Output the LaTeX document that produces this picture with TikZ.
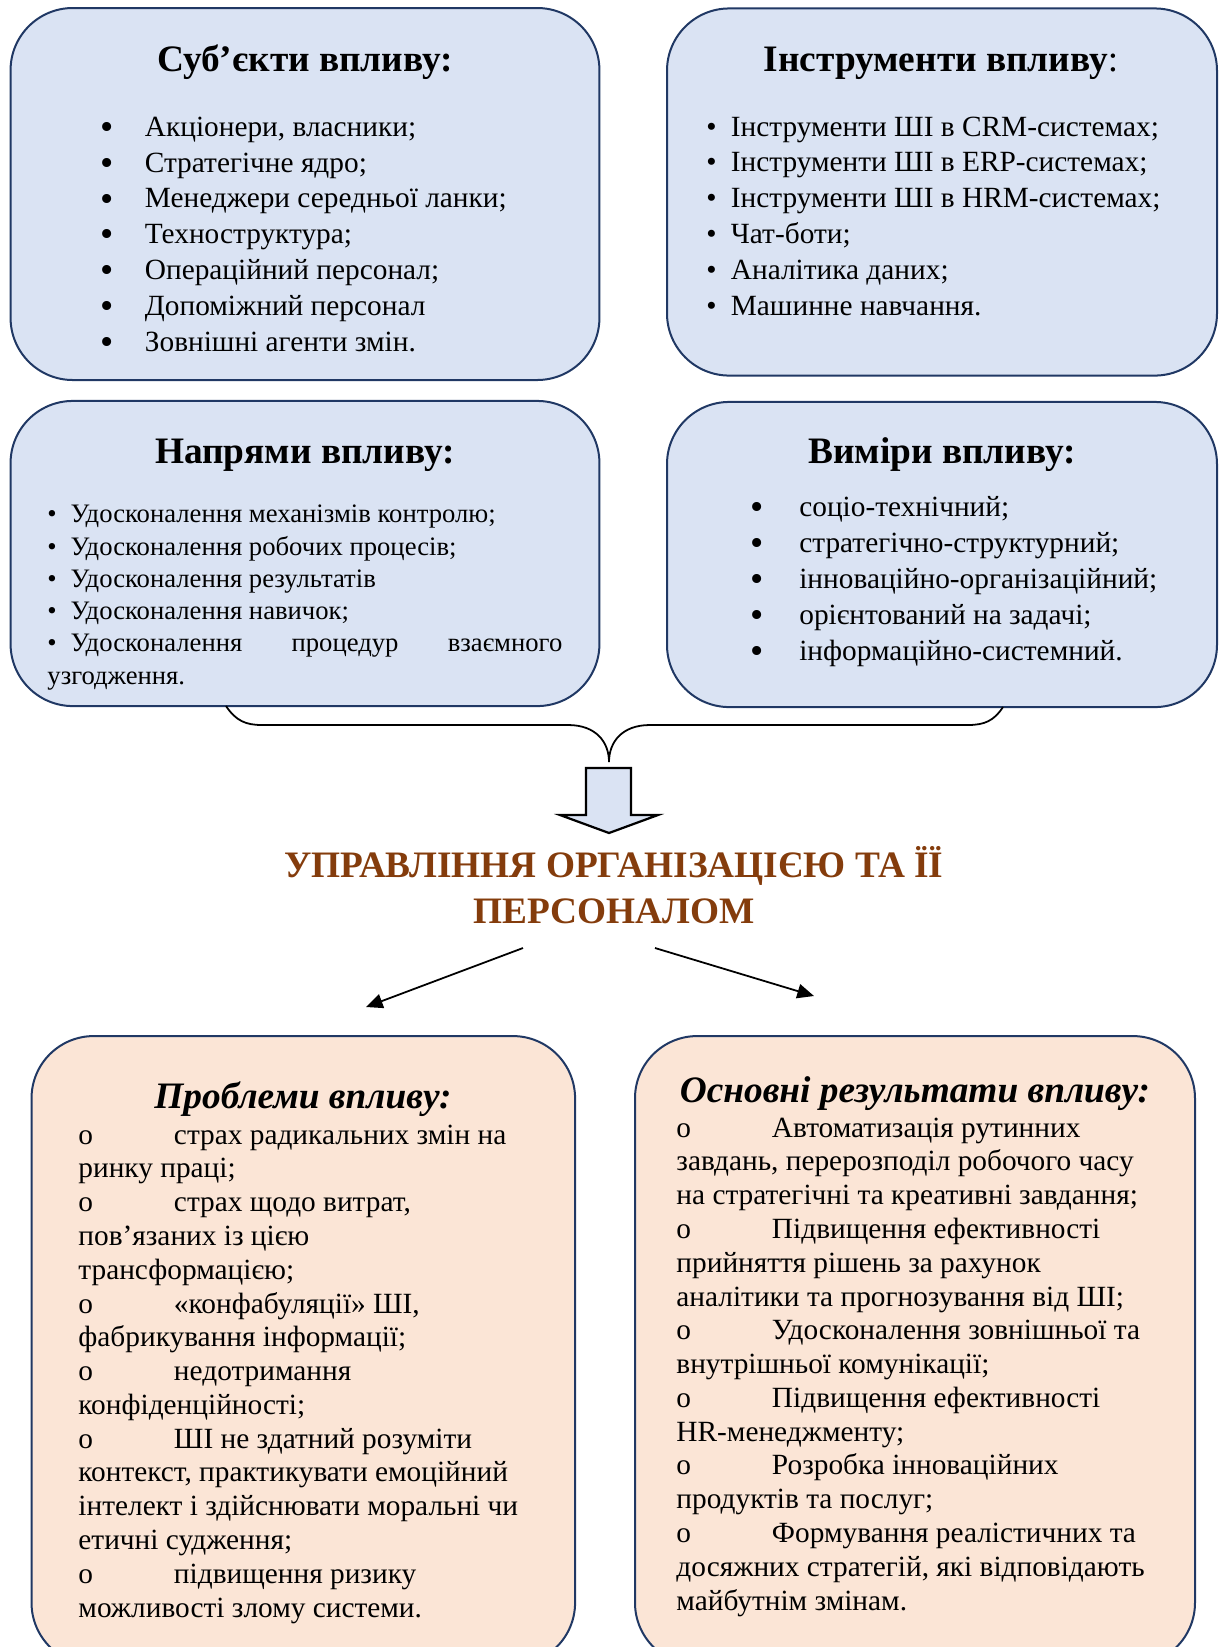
\documentclass[tikz,border=0pt]{standalone}
\usepackage{fontspec}
\setmainfont{Liberation Serif}
\usetikzlibrary{arrows.meta,positioning}
\definecolor{boxline}{HTML}{203864}
\definecolor{boxblue}{HTML}{DAE3F3}
\definecolor{boxpeach}{HTML}{FBE5D6}
\definecolor{headbrown}{HTML}{843C0C}
\newcommand{\bull}[1]{\makebox[#1][l]{\raisebox{-1.4pt}{\fontsize{17}{17}\selectfont\textbullet}}}
\newcommand{\sbull}[1]{\makebox[#1][l]{\textbullet}}
\newcommand{\circit}{\makebox[43pt][l]{o}}
\tikzset{
  bbox/.style={rounded corners=28pt,draw=boxline,line width=0.9pt,fill=boxblue,inner sep=0pt},
  pbox/.style={bbox,fill=boxpeach},
  btitle/.style={anchor=base,inner sep=0pt,font=\fontsize{16.8}{19}\selectfont\bfseries},
  blist/.style={anchor=base west,inner sep=0pt,align=left,font=\fontsize{13.2}{16.1}\selectfont},
  brace/.style={line width=0.8pt,draw=black},
  barr/.style={line width=1pt,draw=black,fill=boxblue,line join=miter},
  tarr/.style={-{Triangle[length=7.5pt,width=6.5pt]},line width=0.8pt}
}
\begin{document}
\begin{tikzpicture}[x=0.45pt,y=-0.45pt]
  \useasboundingbox (0,0) rectangle (1223,1647);
  % top boxes
  \node[bbox,minimum width=265pt,minimum height=167.4pt] (subj) at (305,194) {};
  \node[bbox,minimum width=247.5pt,minimum height=165.2pt] (tools) at (942,192) {};
  \node[bbox,minimum width=265pt,minimum height=137.3pt] (dirs) at (305,553.5) {};
  \node[bbox,minimum width=247.5pt,minimum height=137.3pt] (dims) at (942,554.5) {};
  \node[btitle] (subjT) at (305,71) {Суб’єкти впливу:};
  \node[blist] (subjL) at (100,351) {\bull{20pt}Акціонери, власники;\\
    \bull{20pt}Стратегічне ядро;\\
    \bull{20pt}Менеджери середньої ланки;\\
    \bull{20pt}Техноструктура;\\
    \bull{20pt}Операційний персонал;\\
    \bull{20pt}Допоміжний персонал\\
    \bull{20pt}Зовнішні агенти змін.};
  \node[btitle] (toolsT) at (941,71) {Інструменти впливу\textmd{:}};
  \node[blist] (toolsL) at (706,315) {\sbull{11pt}Інструменти ШІ в CRM-системах;\\
    \sbull{11pt}Інструменти ШІ в ERP-системах;\\
    \sbull{11pt}Інструменти ШІ в HRM-системах;\\
    \sbull{11pt}Чат-боти;\\
    \sbull{11pt}Аналітика даних;\\
    \sbull{11pt}Машинне навчання.};
  \node[btitle] (dirsT) at (305,463) {Напрями впливу:};
  \node[blist,font=\fontsize{12}{14.5}\selectfont] (dirsL) at (47,684) {\sbull{10.4pt}Удосконалення механізмів контролю;\\
    \sbull{10.4pt}Удосконалення робочих процесів;\\
    \sbull{10.4pt}Удосконалення результатів\\
    \sbull{10.4pt}Удосконалення навичок;\\
    \hbox to 231.7pt{\sbull{10.4pt}Удосконалення\hfill процедур\hfill взаємного}\\
    узгодження.};
  \node[btitle] (dimsT) at (942,463) {Виміри впливу:};
  \node[blist,font=\fontsize{13.2}{16.2}\selectfont] (dimsL) at (750,660) {\bull{22pt}соціо-технічний;\\
    \bull{22pt}стратегічно-структурний;\\
    \bull{22pt}інноваційно-організаційний;\\
    \bull{22pt}орієнтований на задачі;\\
    \bull{22pt}інформаційно-системний.};
  % brace and block arrow
  \coordinate (brL) at (226,706);
  \coordinate (brR) at (1003,707);
  \coordinate (brT) at (609,762);
  \draw[brace] (brL) .. controls (236,721) and (246,725) .. (262,725) -- (568,725)
    .. controls (596,725) and (609,742) .. (brT)
    .. controls (609,742) and (622,725) .. (650,725) -- (968,725)
    .. controls (984,725) and (994,721) .. (brR);
  \draw[barr] (586,768) -- (631,768) -- (631,815) -- (658,815) -- (609,833)
    -- (560,815) -- (586,815) -- cycle;
  \node[anchor=base,align=center,inner sep=0pt,text=headbrown,
    font=\fontsize{16.8}{20.7}\selectfont\bfseries] (ttl) at (614,923)
    {УПРАВЛІННЯ ОРГАНІЗАЦІЄЮ ТА ЇЇ\\ПЕРСОНАЛОМ};
  \coordinate (lft0) at (523,948);
  \coordinate (lft1) at (366,1007);
  \coordinate (rgt0) at (655,948);
  \coordinate (rgt1) at (814,996);
  \draw[tarr] (lft0) -- (lft1);
  \draw[tarr] (rgt0) -- (rgt1);
  % bottom boxes
  \node[pbox,minimum width=244.6pt,minimum height=283pt] (probs) at (303.3,1350.5) {};
  \node[pbox,minimum width=252pt,minimum height=283pt] (res) at (915,1350.5) {};
  \node[btitle,font=\fontsize{16.8}{19}\selectfont\bfseries\itshape] (probsT) at (303,1108) {Проблеми впливу:};
  \node[blist,font=\fontsize{13.2}{15.2}\selectfont] (probsL) at (78,1617) {\circit страх радикальних змін на\\
    ринку праці;\\
    \circit страх щодо витрат,\\
    пов’язаних із цією\\
    трансформацією;\\
    \circit «конфабуляції» ШІ,\\
    фабрикування інформації;\\
    \circit недотримання\\
    конфіденційності;\\
    \circit ШІ не здатний розуміти\\
    контекст, практикувати емоційний\\
    інтелект і здійснювати моральні чи\\
    етичні судження;\\
    \circit підвищення ризику\\
    можливості злому системи.};
  \node[btitle,font=\fontsize{16.8}{19}\selectfont\bfseries\itshape] (resT) at (915,1102) {Основні результати впливу:};
  \node[blist,font=\fontsize{13.2}{15.2}\selectfont] (resL) at (676,1610) {\circit Автоматизація рутинних\\
    завдань, перерозподіл робочого часу\\
    на стратегічні та креативні завдання;\\
    \circit Підвищення ефективності\\
    прийняття рішень за рахунок\\
    аналітики та прогнозування від ШІ;\\
    \circit Удосконалення зовнішньої та\\
    внутрішньої комунікації;\\
    \circit Підвищення ефективності\\
    HR-менеджменту;\\
    \circit Розробка інноваційних\\
    продуктів та послуг;\\
    \circit Формування реалістичних та\\
    досяжних стратегій, які відповідають\\
    майбутнім змінам.};
\end{tikzpicture}
\end{document}
